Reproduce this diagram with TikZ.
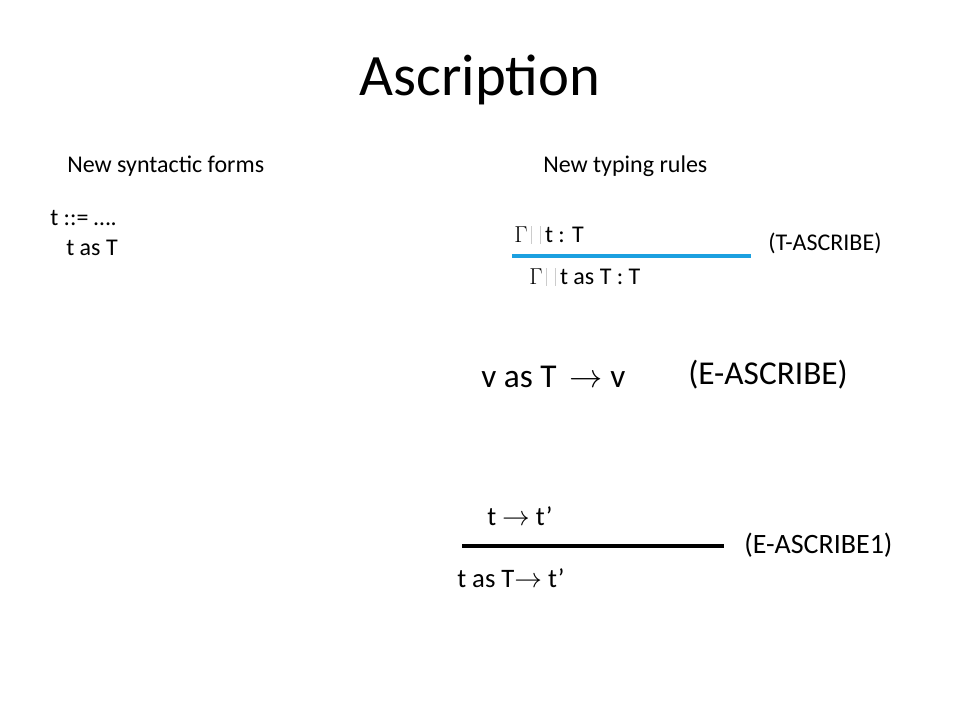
\documentclass[tikz,border=0pt]{standalone}
\usepackage{fontspec}
\setmainfont{Carlito}
\begin{document}
\begin{tikzpicture}[x=0.75pt,y=-0.75pt,
  txt/.style={inner sep=0pt,anchor=west,font=\fontsize{18}{22}\selectfont},
  big/.style={inner sep=0pt,anchor=west,font=\fontsize{25}{30}\selectfont},
  mid/.style={inner sep=0pt,anchor=west,font=\fontsize{20}{24}\selectfont},
  ruleblue/.style={line width=2.4pt,draw={rgb,255:red,28;green,160;blue,224}},
  ruleblack/.style={line width=3.2pt,draw=black}]
\newcommand{\tofu}{\hspace{0.15em}\textcolor{gray!40}{\rule[-0.05em]{0.7pt}{0.72em}}\hspace{0.35em}\textcolor{gray!40}{\rule[-0.05em]{0.7pt}{0.72em}}\hspace{0.15em}}
\useasboundingbox[fill=white] (0,0) rectangle (960,720);
\node[inner sep=0pt,font=\fontsize{44}{53}\selectfont] (title) at (480,80) {Ascription};
\node[txt] (syn) at (67,166) {New syntactic forms};
\node[txt] (typ) at (543,166) {New typing rules};
\node[txt] (g1) at (50,218) {t ::= ….};
\node[txt] (g2) at (66,248) {t as T};
\node[txt] (p1) at (514,235) {$\Gamma$\tofu t : T};
\coordinate (b1) at (512,256);
\coordinate (b2) at (751,256);
\draw[ruleblue] (b1) -- (b2);
\node[txt] (c1) at (529,277) {$\Gamma$\tofu t as T : T};
\node[txt] (n1) at (768,243) {(T-ASCRIBE)};
\node[big] (e1) at (481,377) {v as T \,$\rightarrow$ v};
\node[big] (n2) at (688,375) {(E-ASCRIBE)};
\node[mid] (p2) at (487,516) {t $\rightarrow$ t’};
\coordinate (k1) at (462,546);
\coordinate (k2) at (724,546);
\draw[ruleblack] (k1) -- (k2);
\node[mid] (c2) at (457,578) {t as T$\rightarrow$ t’};
\node[mid,font=\fontsize{21}{25}\selectfont] (n3) at (744,545) {(E-ASCRIBE1)};
\end{tikzpicture}
\end{document}
